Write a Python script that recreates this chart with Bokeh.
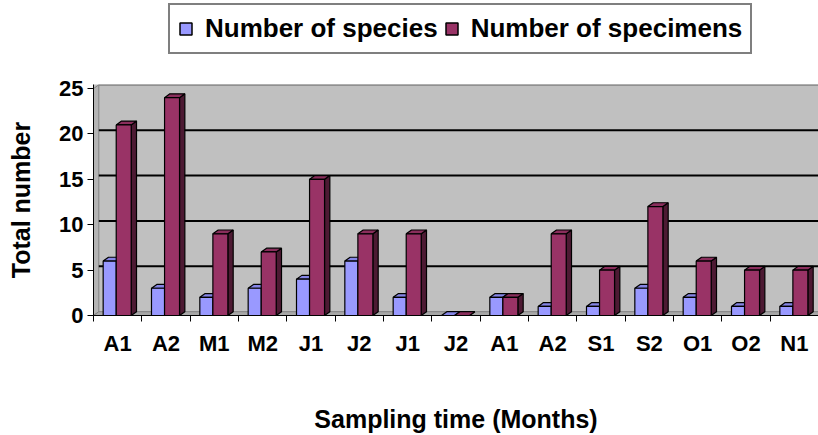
from bokeh.plotting import figure
from bokeh.layouts import column
from bokeh.models import (Range1d, FixedTicker, CustomJSTickFormatter, Legend,
                          LegendItem, ColumnDataSource)
from bokeh.embed import file_html
from bokeh.resources import INLINE

# ---- data ----
months = ["A1", "A2", "M1", "M2", "J1", "J2", "J1", "J2", "A1", "A2", "S1", "S2", "O1", "O2", "N1"]
species = [6, 3, 2, 3, 4, 6, 2, 0, 2, 1, 1, 3, 2, 1, 1]
specimens = [21, 24, 9, 7, 15, 9, 9, 0, 2, 9, 5, 12, 6, 5, 5]
y_ticks = [0, 5, 10, 15, 20, 25]
grid_vals = [5, 10, 15, 20]
series_names = ["Number of species", "Number of specimens"]

FONT = "Liberation Sans"
n = len(months)
DX, DY = 0.11, 0.42
YMAX = 25
SP_COLORS = ("#9999ff", "#8585e6", "#6b6bb3")
SM_COLORS = ("#993366", "#8a2e5c", "#4d1a33")

# ---------- legend strip ----------
lg = figure(width=818, height=60, output_backend="svg", toolbar_location=None,
            x_range=Range1d(1, 2), y_range=Range1d(1, 2),
            x_axis_location=None, y_axis_location=None,
            min_border_left=0, min_border_right=0, min_border_top=0, min_border_bottom=0)
lg.outline_line_color = None
lg.xgrid.grid_line_color = None
lg.ygrid.grid_line_color = None
# placeholder renderers (zero-size, outside the visible range) that give the legend its swatches
d1 = lg.quad(left=[0], right=[0], top=[0], bottom=[0], fill_color=SP_COLORS[0],
             line_color="black", line_width=1.5)
d2 = lg.quad(left=[0], right=[0], top=[0], bottom=[0], fill_color=SM_COLORS[0],
             line_color="black", line_width=1.5)
legend = Legend(items=[LegendItem(label=series_names[0], renderers=[d1]),
                       LegendItem(label=series_names[1], renderers=[d2])],
                orientation="horizontal", location=(75, 6), margin=0, padding=8,
                spacing=6, label_standoff=12, glyph_width=15, glyph_height=15,
                label_text_font=FONT, label_text_font_size="26px",
                label_text_font_style="bold", label_text_color="black",
                border_line_color="black",
                border_line_width=2, background_fill_color="white", background_fill_alpha=1)
lg.add_layout(legend)

# ---------- main chart ----------
p = figure(width=818, height=375, output_backend="svg", toolbar_location=None,
           x_range=Range1d(0, n), y_range=Range1d(0, YMAX + 0.45),
           min_border_left=93, min_border_right=0, min_border_top=24, min_border_bottom=120)
p.background_fill_color = "#c0c0c0"
p.border_fill_color = "white"
p.outline_line_color = None
p.xgrid.grid_line_color = None
p.ygrid.grid_line_color = None

# 3D walls
p.patch(x=[0, DX, DX, 0], y=[0, DY, YMAX + DY, YMAX], fill_color="#b4b4b4",
        line_color="#808080", line_width=1)
p.patch(x=[0, DX, n, n], y=[0, DY, DY, 0], fill_color="#a8a8a8",
        line_color="#808080", line_width=1)
p.segment(x0=[DX] * len(grid_vals), x1=[n] * len(grid_vals),
          y0=[v + DY for v in grid_vals], y1=[v + DY for v in grid_vals],
          line_color="black", line_width=2)
p.segment(x0=[DX], x1=[n], y0=[YMAX + DY], y1=[YMAX + DY], line_color="#808080", line_width=2)


def bars(values, off0, off1, colors):
    front, top, side = colors
    left = [i + off0 for i in range(n)]
    right = [i + off1 for i in range(n)]
    src = ColumnDataSource(dict(
        left=left, right=right, top=values, bottom=[0] * n,
        sx=[[r, r + DX, r + DX, r] for r in right],
        sy=[[0, DY, v + DY, v] for v in values],
        tx=[[l, l + DX, r + DX, r] for l, r in zip(left, right)],
        ty=[[v, v + DY, v + DY, v] for v in values],
    ))
    p.patches(xs="sx", ys="sy", source=src, fill_color=side, line_color="black", line_width=1.2)
    p.patches(xs="tx", ys="ty", source=src, fill_color=top, line_color="black", line_width=1.2)
    return p.quad(left="left", right="right", top="top", bottom="bottom", source=src,
                  fill_color=front, line_color="black", line_width=1.2)


bars(species, 0.20, 0.47, SP_COLORS)
bars(specimens, 0.47, 0.78, SM_COLORS)

# axes
p.yaxis.ticker = FixedTicker(ticks=y_ticks)
p.yaxis.axis_line_color = "black"
p.yaxis.major_tick_out = 6
p.yaxis.major_tick_in = 0
p.yaxis.major_tick_line_color = "black"
p.yaxis.minor_tick_line_color = None
p.yaxis.major_label_standoff = 4
p.yaxis.major_label_text_font = FONT
p.yaxis.major_label_text_font_size = "22px"
p.yaxis.major_label_text_font_style = "bold"
p.yaxis.major_label_text_color = "black"
p.yaxis.axis_label = "Total number"
p.yaxis.axis_label_text_font = FONT
p.yaxis.axis_label_text_font_size = "25px"
p.yaxis.axis_label_text_font_style = "bold"
p.yaxis.axis_label_text_color = "black"
p.yaxis.axis_label_standoff = 21

p.xaxis.ticker = FixedTicker(ticks=[i + 0.5 for i in range(n)], minor_ticks=list(range(n + 1)))
p.xaxis.formatter = CustomJSTickFormatter(args=dict(labels=months),
                                          code="return labels[Math.floor(tick)];")
p.xaxis.axis_line_color = "black"
p.xaxis.major_tick_out = 0
p.xaxis.major_tick_in = 0
p.xaxis.major_tick_line_color = None
p.xaxis.minor_tick_out = 6
p.xaxis.minor_tick_in = 0
p.xaxis.minor_tick_line_color = "black"
p.xaxis.major_label_standoff = 9
p.xaxis.major_label_text_font = FONT
p.xaxis.major_label_text_font_size = "22px"
p.xaxis.major_label_text_font_style = "bold"
p.xaxis.major_label_text_color = "black"
p.xaxis.axis_label = "Sampling time (Months)"
p.xaxis.axis_label_text_font = FONT
p.xaxis.axis_label_text_font_size = "25px"
p.xaxis.axis_label_text_font_style = "bold"
p.xaxis.axis_label_text_color = "black"
p.xaxis.axis_label_text_line_height = 1.0
p.xaxis.axis_label_standoff = 46

layout = column(lg, p, spacing=0)
open("out.html", "w").write(file_html(layout, INLINE))
